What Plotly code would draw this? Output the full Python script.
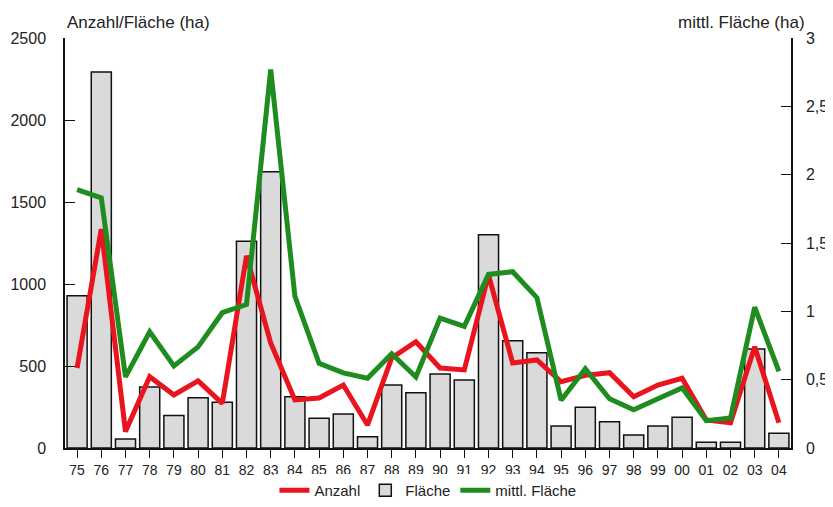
import plotly.graph_objects as go

years = ["75", "76", "77", "78", "79", "80", "81", "82", "83", "84", "85", "86", "87", "88", "89",
         "90", "91", "92", "93", "94", "95", "96", "97", "98", "99", "00", "01", "02", "03", "04"]

flaeche = [928, 2292, 55, 372, 198, 307, 279, 1260, 1685, 313, 181, 207, 69, 384, 337,
           451, 415, 1300, 654, 581, 134, 248, 160, 79, 134, 187, 35, 35, 604, 90]

anzahl = [488, 1335, 100, 435, 323, 409, 272, 1172, 640, 293, 305, 384, 140, 549, 648,
          488, 476, 1055, 518, 537, 404, 443, 459, 313, 384, 425, 171, 154, 618, 154]

mittl_flaeche = [1.89, 1.83, 0.52, 0.85, 0.60, 0.74, 0.99, 1.05, 2.77, 1.11, 0.62, 0.55, 0.51, 0.69, 0.52,
                 0.95, 0.89, 1.27, 1.29, 1.10, 0.35, 0.58, 0.36, 0.28, 0.36, 0.44, 0.20, 0.22, 1.03, 0.56]

font_family = "Liberation Sans, Arial, sans-serif"
text_col = "#222222"

fig = go.Figure()

fig.add_trace(go.Bar(
    x=years, y=flaeche, name="Fläche",
    marker=dict(color="#dadada", line=dict(color="#111111", width=1.5)),
    legendrank=2, yaxis="y",
))
fig.add_trace(go.Scatter(
    x=years, y=mittl_flaeche, name="mittl. Fläche", mode="lines",
    line=dict(color="#1e8c1e", width=5), legendrank=3, yaxis="y2",
))
fig.add_trace(go.Scatter(
    x=years, y=anzahl, name="Anzahl", mode="lines",
    line=dict(color="#e8141e", width=5), legendrank=1, yaxis="y",
))

# page body has an 8px default margin, so the figure is sized to fit the window
fig.update_layout(
    width=825, height=499,
    margin=dict(l=57, r=42, t=30, b=59, autoexpand=False),
    paper_bgcolor="white", plot_bgcolor="white",
    separators=", ",
    font=dict(family=font_family, size=15, color=text_col),
    bargap=0.17,
    showlegend=True,
    legend=dict(orientation="h", x=0.509, xanchor="center", xref="container",
                y=-0.018, yanchor="bottom", yref="container",
                font=dict(size=15), itemwidth=30, tracegroupgap=0),
    xaxis=dict(
        type="category", range=[-0.5, 29.5], automargin=False,
        showline=True, linecolor="#111111", linewidth=1.5,
        ticks="outside", ticklen=8, tickcolor="#111111", tickwidth=1,
        showgrid=False, zeroline=False,
        tickfont=dict(size=14),
    ),
    yaxis=dict(
        range=[0, 2500], dtick=500, automargin=False,
        showline=True, linecolor="#111111", linewidth=1.5,
        ticks="inside", ticklen=10, tickcolor="#111111",
        showgrid=False, zeroline=False,
        tickfont=dict(size=16), ticklabelstandoff=14,
    ),
    yaxis2=dict(
        range=[0, 3], dtick=0.5, overlaying="y", side="right", automargin=False,
        showline=True, linecolor="#111111", linewidth=1.5,
        ticks="inside", ticklen=10, tickcolor="#111111",
        showgrid=False, zeroline=False,
        tickfont=dict(size=16), ticklabelstandoff=10,
    ),
    annotations=[
        dict(text="Anzahl/Fläche (ha)", xref="paper", yref="paper", x=0, y=1,
             xanchor="left", yanchor="bottom", yshift=4, showarrow=False,
             font=dict(size=17, color=text_col)),
        dict(text="mittl. Fläche (ha)", xref="paper", yref="paper", x=1, y=1,
             xanchor="right", yanchor="bottom", yshift=4, xshift=16, showarrow=False,
             font=dict(size=17, color=text_col)),
    ],
)

fig.write_html("out.html")
